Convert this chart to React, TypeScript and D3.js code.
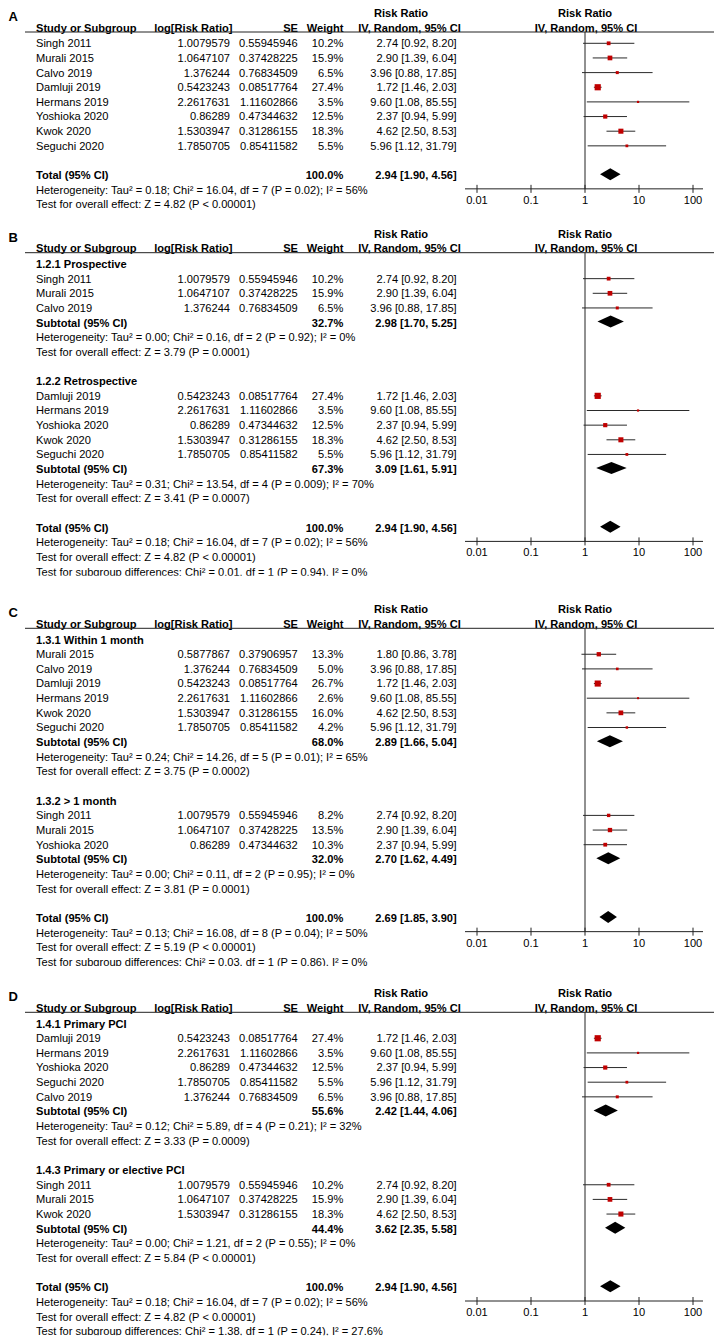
import * as d3 from 'd3';

// study level values (index 8 is the "within 1 month" Murali estimate used in panel C)
const studyNames = ["Singh 2011", "Murali 2015", "Calvo 2019", "Damluji 2019", "Hermans 2019",
    "Yoshioka 2020", "Kwok 2020", "Seguchi 2020", "Murali 2015"];
const logRR = [1.0079579, 1.0647107, 1.376244, 0.5423243, 2.2617631, 0.86289, 1.5303947, 1.7850705, 0.5877867];
const seVals = [0.55945946, 0.37428225, 0.76834509, 0.08517764, 1.11602866, 0.47344632, 0.31286155, 0.85411582, 0.37906957];
const rrVals = [2.74, 2.90, 3.96, 1.72, 9.60, 2.37, 4.62, 5.96, 1.80];
const ciLow = [0.92, 1.39, 0.88, 1.46, 1.08, 0.94, 2.50, 1.12, 0.86];
const ciHigh = [8.20, 6.04, 17.85, 2.03, 85.55, 5.99, 8.53, 31.79, 3.78];

const axisTicks = [0.01, 0.1, 1, 10, 100];
const panelLetters = ["A", "B", "C", "D"];

// subgroups per panel (panel A has a single unnamed group)
const groupLabels = [[""], ["1.2.1 Prospective", "1.2.2 Retrospective"],
    ["1.3.1 Within 1 month", "1.3.2 > 1 month"], ["1.4.1 Primary PCI", "1.4.3 Primary or elective PCI"]];
const groupStudies = [
    [[0, 1, 2, 3, 4, 5, 6, 7]],
    [[0, 1, 2], [3, 4, 5, 6, 7]],
    [[8, 2, 3, 4, 6, 7], [0, 1, 5]],
    [[3, 4, 5, 7, 2], [0, 1, 6]],
];
const groupWeights = [
    [[10.2, 15.9, 6.5, 27.4, 3.5, 12.5, 18.3, 5.5]],
    [[10.2, 15.9, 6.5], [27.4, 3.5, 12.5, 18.3, 5.5]],
    [[13.3, 5.0, 26.7, 2.6, 16.0, 4.2], [8.2, 13.5, 10.3]],
    [[27.4, 3.5, 12.5, 5.5, 6.5], [10.2, 15.9, 18.3]],
];
const subWeight = [[], [32.7, 67.3], [68.0, 32.0], [55.6, 44.4]];
const subRR = [[], [2.98, 3.09], [2.89, 2.70], [2.42, 3.62]];
const subLow = [[], [1.70, 1.61], [1.66, 1.62], [1.44, 2.35]];
const subHigh = [[], [5.25, 5.91], [5.04, 4.49], [4.06, 5.58]];
const subHet = [[],
    ["Heterogeneity: Tau² = 0.00; Chi² = 0.16, df = 2 (P = 0.92); I² = 0%", "Heterogeneity: Tau² = 0.31; Chi² = 13.54, df = 4 (P = 0.009); I² = 70%"],
    ["Heterogeneity: Tau² = 0.24; Chi² = 14.26, df = 5 (P = 0.01); I² = 65%", "Heterogeneity: Tau² = 0.00; Chi² = 0.11, df = 2 (P = 0.95); I² = 0%"],
    ["Heterogeneity: Tau² = 0.12; Chi² = 5.89, df = 4 (P = 0.21); I² = 32%", "Heterogeneity: Tau² = 0.00; Chi² = 1.21, df = 2 (P = 0.55); I² = 0%"]];
const subTest = [[],
    ["Test for overall effect: Z = 3.79 (P = 0.0001)", "Test for overall effect: Z = 3.41 (P = 0.0007)"],
    ["Test for overall effect: Z = 3.75 (P = 0.0002)", "Test for overall effect: Z = 3.81 (P = 0.0001)"],
    ["Test for overall effect: Z = 3.33 (P = 0.0009)", "Test for overall effect: Z = 5.84 (P < 0.00001)"]];

const totalRR = [2.94, 2.94, 2.69, 2.94];
const totalLow = [1.90, 1.90, 1.85, 1.90];
const totalHigh = [4.56, 4.56, 3.90, 4.56];
const totalHet = [
    "Heterogeneity: Tau² = 0.18; Chi² = 16.04, df = 7 (P = 0.02); I² = 56%",
    "Heterogeneity: Tau² = 0.18; Chi² = 16.04, df = 7 (P = 0.02); I² = 56%",
    "Heterogeneity: Tau² = 0.13; Chi² = 16.08, df = 8 (P = 0.04); I² = 50%",
    "Heterogeneity: Tau² = 0.18; Chi² = 16.04, df = 7 (P = 0.02); I² = 56%"];
const totalTest = [
    "Test for overall effect: Z = 4.82 (P < 0.00001)",
    "Test for overall effect: Z = 4.82 (P < 0.00001)",
    "Test for overall effect: Z = 5.19 (P < 0.00001)",
    "Test for overall effect: Z = 4.82 (P < 0.00001)"];
const subgroupTest = ["",
    "Test for subgroup differences: Chi² = 0.01, df = 1 (P = 0.94), I² = 0%",
    "Test for subgroup differences: Chi² = 0.03, df = 1 (P = 0.86), I² = 0%",
    "Test for subgroup differences: Chi² = 1.38, df = 1 (P = 0.24), I² = 27.6%"];

const W = 717, H = 1339;
const panelTops = [13, 233.7, 609.3, 993.3];
const rowH = 14.65;
const FONT = "'Liberation Sans', Arial, sans-serif";
const FS = 11.1;

const x = d3.scaleLog().domain([0.01, 100]).range([477, 693]);

const ci = (r: number, l: number, h: number) => `${r.toFixed(2)} [${l.toFixed(2)}, ${h.toFixed(2)}]`;

type Row = { kind: string; text?: string; s?: number; w?: number; rr?: number; lo?: number; hi?: number };

function buildRows(p: number): Row[] {
    let rows: Row[] = [];
    const grouped = p > 0;
    groupLabels[p].forEach((lab, g) => {
        if (grouped) rows.push({ kind: "group", text: lab });
        groupStudies[p][g].forEach((s, k) => rows.push({ kind: "study", s, w: groupWeights[p][g][k] }));
        if (grouped) {
            rows.push({ kind: "sub", text: "Subtotal (95% CI)", w: subWeight[p][g], rr: subRR[p][g], lo: subLow[p][g], hi: subHigh[p][g] });
            rows.push({ kind: "note", text: subHet[p][g] });
            rows.push({ kind: "note", text: subTest[p][g] });
        }
        rows.push({ kind: "blank" });
    });
    rows.push({ kind: "total", text: "Total (95% CI)", w: 100, rr: totalRR[p], lo: totalLow[p], hi: totalHigh[p] });
    rows.push({ kind: "note", text: totalHet[p] });
    rows.push({ kind: "note", text: totalTest[p] });
    if (subgroupTest[p]) rows.push({ kind: "note", text: subgroupTest[p] });
    return rows;
}

function Panel({ p }: { p: number }) {
    const y0 = panelTops[p];
    const rows = buildRows(p);
    const first = y0 + 30.3;
    const cy = (i: number) => first + i * rowH;
    const bl = (i: number) => cy(i) + 3.9;
    const lineY = y0 + 19;
    const totalIdx = rows.findIndex((r) => r.kind === "total");
    const axisY = cy(totalIdx) + 13.7;
    const clipBottom = subgroupTest[p] ? cy(rows.length - 1) + 4 : H;

    const diamond = (r: Row, c: number) =>
        `M${x(r.lo!)},${c} L${x(r.rr!)},${c - 6} L${x(r.hi!)},${c} L${x(r.rr!)},${c + 6} Z`;

    return (
        <g clipPath={`url(#clip${p})`}>
            <clipPath id={`clip${p}`}>
                <rect x={0} y={y0 - 20} width={W} height={clipBottom - y0 + 20} />
            </clipPath>
            <text x={8.5} y={y0 + 7.8} fontSize={13} fontWeight="bold">{panelLetters[p]}</text>
            <g fontWeight="bold">
                <text x={401} y={y0 + 3.9} textAnchor="middle">Risk Ratio</text>
                <text x={585} y={y0 + 3.9} textAnchor="middle">Risk Ratio</text>
                <text x={36} y={y0 + 14.6 + 3.9}>Study or Subgroup</text>
                <text x={232.5} y={y0 + 14.6 + 3.9} textAnchor="end">log[Risk Ratio]</text>
                <text x={298} y={y0 + 14.6 + 3.9} textAnchor="end">SE</text>
                <text x={343.5} y={y0 + 14.6 + 3.9} textAnchor="end">Weight</text>
                <text x={409.5} y={y0 + 14.6 + 3.9} textAnchor="middle">IV, Random, 95% CI</text>
                <text x={586} y={y0 + 14.6 + 3.9} textAnchor="middle">IV, Random, 95% CI</text>
            </g>
            <line x1={25} x2={714} y1={lineY} y2={lineY} stroke="#222" strokeWidth={1} />
            <line x1={x(1)} x2={x(1)} y1={lineY} y2={axisY} stroke="#222" strokeWidth={1} />

            {rows.map((r, i) => {
                if (r.kind === "group")
                    return <text key={i} x={36} y={bl(i)} fontWeight="bold">{r.text}</text>;
                if (r.kind === "note")
                    return <text key={i} x={36} y={bl(i)}>{r.text}</text>;
                if (r.kind === "study") {
                    const s = r.s!;
                    const side = Math.max(2, 1.18 * Math.sqrt(r.w!));
                    return (
                        <g key={i}>
                            <text x={36} y={bl(i)}>{studyNames[s]}</text>
                            <text x={230} y={bl(i)} textAnchor="end">{String(logRR[s])}</text>
                            <text x={297.7} y={bl(i)} textAnchor="end">{String(seVals[s])}</text>
                            <text x={343.3} y={bl(i)} textAnchor="end">{r.w!.toFixed(1)}%</text>
                            <text x={456.7} y={bl(i)} textAnchor="end">{ci(rrVals[s], ciLow[s], ciHigh[s])}</text>
                            <line x1={x(ciLow[s])} x2={x(ciHigh[s])} y1={cy(i)} y2={cy(i)} stroke="#2a2a2a" strokeWidth={1} />
                            <rect x={x(rrVals[s]) - side / 2} y={cy(i) - side / 2} width={side} height={side} fill="#c00000" />
                        </g>
                    );
                }
                if (r.kind === "sub" || r.kind === "total")
                    return (
                        <g key={i} fontWeight="bold">
                            <text x={36} y={bl(i)}>{r.text}</text>
                            <text x={343.3} y={bl(i)} textAnchor="end">{r.w!.toFixed(1)}%</text>
                            <text x={456.7} y={bl(i)} textAnchor="end">{ci(r.rr!, r.lo!, r.hi!)}</text>
                            <path d={diamond(r, cy(i) - 1)} fill="#000" />
                        </g>
                    );
                return null;
            })}

            <g>
                <line x1={465} x2={703} y1={axisY} y2={axisY} stroke="#222" strokeWidth={1} />
                {axisTicks.map((t) => (
                    <g key={t}>
                        <line x1={x(t)} x2={x(t)} y1={axisY - 4} y2={axisY + 4} stroke="#222" strokeWidth={1} />
                        <text x={x(t)} y={axisY + 11 + 3.9} textAnchor="middle">{String(t)}</text>
                    </g>
                ))}
            </g>
        </g>
    );
}

export default function App() {
    return (
        <svg width={W} height={H} style={{ position: "absolute", left: 0, top: 0, background: "#fff" }}
            fontFamily={FONT} fontSize={FS} fill="#000">
            <rect width={W} height={H} fill="#fff" />
            {panelLetters.map((_, p) => <Panel key={p} p={p} />)}
        </svg>
    );
}
